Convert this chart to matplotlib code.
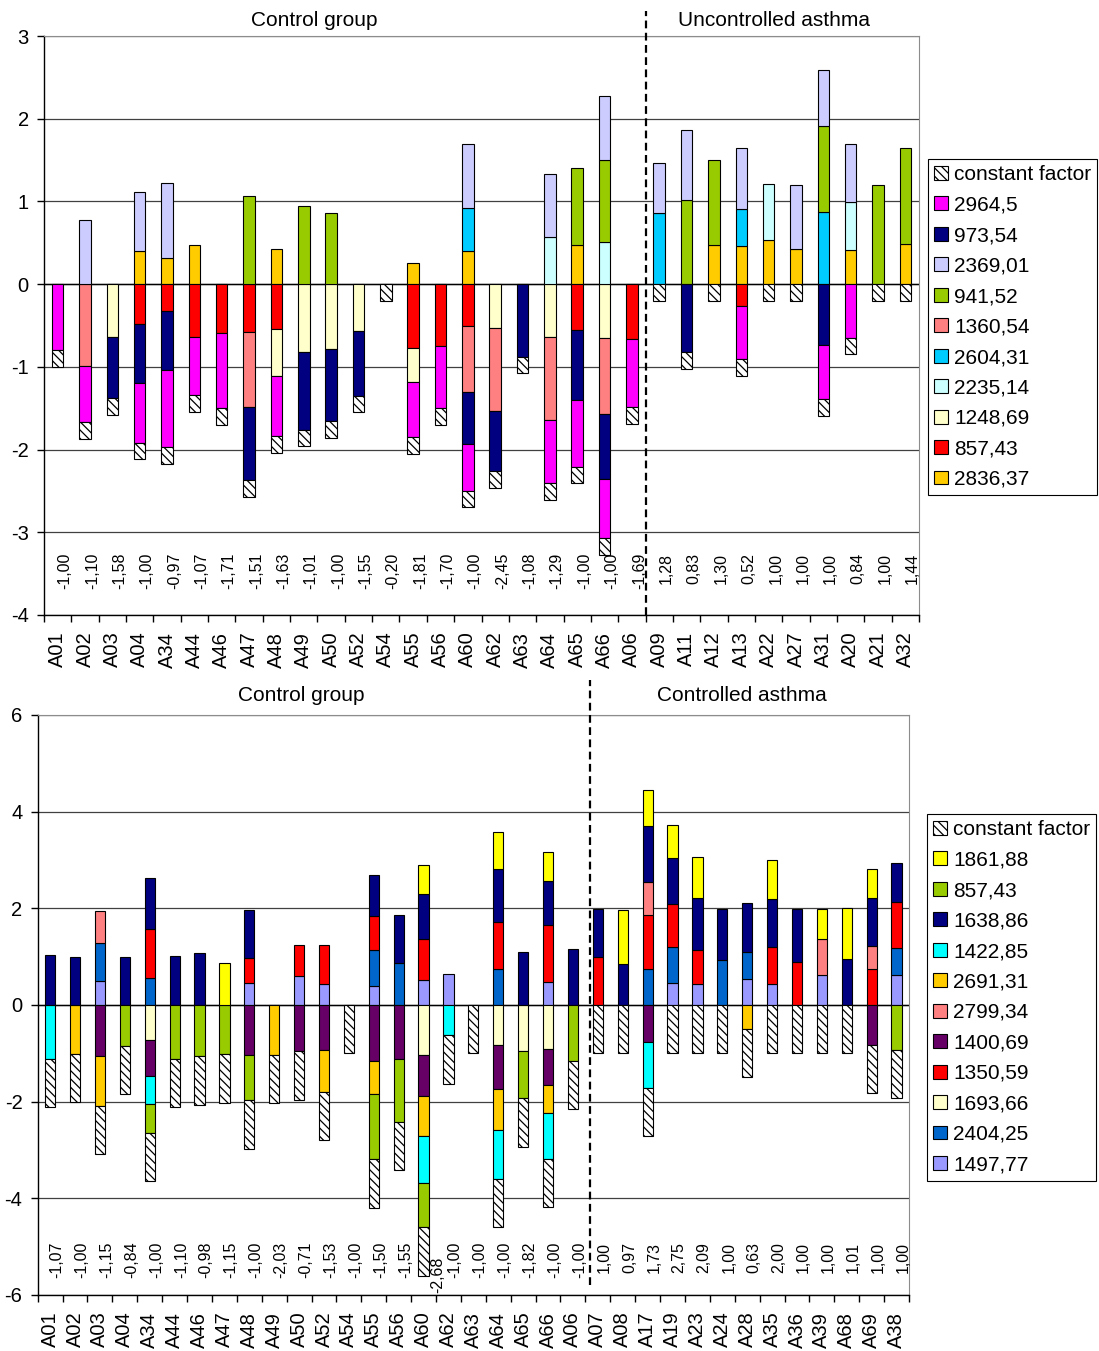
import matplotlib
matplotlib.use("Agg")
import matplotlib.pyplot as plt
import numpy as np
from matplotlib.patches import Patch

plt.rcParams.update({
    "font.family": ["Liberation Sans", "DejaVu Sans"],
    "axes.unicode_minus": False,
    "hatch.linewidth": 0.9,
    "hatch.color": "#303030",
    "figure.facecolor": "white",
    "axes.facecolor": "white",
})

HATCH = "\\\\\\\\"

# ---------------- top panel: control group vs uncontrolled asthma ----------------
top_cats = ["A01", "A02", "A03", "A04", "A34", "A44", "A46", "A47", "A48", "A49", "A50",
            "A52", "A54", "A55", "A56", "A60", "A62", "A63", "A64", "A65", "A66", "A06",
            "A09", "A11", "A12", "A13", "A22", "A27", "A31", "A20", "A21", "A32"]
top_n_control = 22

# series listed in stacking order (legend shows them reversed)
top_names = ["2836,37", "857,43", "1248,69", "2235,14", "2604,31", "1360,54",
             "941,52", "2369,01", "973,54", "2964,5", "constant factor"]
top_colors = ["#FFCC00", "#FF0000", "#FFFFCC", "#CCFFFF", "#00CCFF", "#FF8080",
              "#99CC00", "#CCCCFF", "#000080", "#FF00FF", "white"]

t_2836 = [0, 0, 0, .40, .32, .47, 0, 0, .42, 0, 0, 0, 0, .25, 0, .40, 0, 0, 0, .47, 0, 0,
          0, 0, .47, .46, .53, .43, 0, .41, 0, .48]
t_857 = [0, 0, 0, -.48, -.33, -.64, -.59, -.58, -.54, 0, 0, 0, 0, -.77, -.75, -.51, 0, 0, 0, -.55, 0, -.66,
         0, 0, 0, -.27, 0, 0, 0, 0, 0, 0]
t_1248 = [0, 0, -.64, 0, 0, 0, 0, 0, -.57, -.82, -.78, -.57, 0, -.41, 0, 0, -.53, 0, -.64, 0, -.65, 0,
          0, 0, 0, 0, 0, 0, 0, 0, 0, 0]
t_2235 = [0, 0, 0, 0, 0, 0, 0, 0, 0, 0, 0, 0, 0, 0, 0, 0, 0, 0, .57, 0, .51, 0,
          0, 0, 0, 0, .68, 0, 0, .58, 0, 0]
t_2604 = [0, 0, 0, 0, 0, 0, 0, 0, 0, 0, 0, 0, 0, 0, 0, .52, 0, 0, 0, 0, 0, 0,
          .86, 0, 0, .45, 0, 0, .87, 0, 0, 0]
t_1360 = [0, -.99, 0, 0, 0, 0, 0, -.91, 0, 0, 0, 0, 0, 0, 0, -.79, -1.00, 0, -1.00, 0, -.92, 0,
          0, 0, 0, 0, 0, 0, 0, 0, 0, 0]
t_941 = [0, 0, 0, 0, 0, 0, 0, 1.06, 0, .94, .86, 0, 0, 0, 0, 0, 0, 0, 0, .94, .99, 0,
         0, 1.02, 1.03, 0, 0, 0, 1.04, 0, 1.20, 1.16]
t_2369 = [0, .77, 0, .72, .90, 0, 0, 0, 0, 0, 0, 0, 0, 0, 0, .78, 0, 0, .76, 0, .77, 0,
          .61, .84, 0, .73, 0, .77, .68, .70, 0, 0]
t_973 = [0, 0, -.74, -.71, -.71, 0, 0, -.88, 0, -.94, -.88, -.78, 0, 0, 0, -.63, -.73, -.88, 0, -.85, -.78, 0,
         0, -.82, 0, 0, 0, 0, -.74, 0, 0, 0]
t_2964 = [-.80, -.68, 0, -.73, -.93, -.70, -.91, 0, -.73, 0, 0, 0, 0, -.67, -.75, -.57, 0, 0, -.77, -.81, -.72, -.83,
          0, 0, 0, -.64, 0, 0, -.65, -.65, 0, 0]
t_const = [-0.2] * 32

top_totals = [-1.00, -1.10, -1.58, -1.00, -0.97, -1.07, -1.71, -1.51, -1.63, -1.01, -1.00,
              -1.55, -0.20, -1.81, -1.70, -1.00, -2.45, -1.08, -1.29, -1.00, -1.00, -1.69,
              1.28, 0.83, 1.30, 0.52, 1.00, 1.00, 1.00, 0.84, 1.00, 1.44]

# ---------------- bottom panel: control group vs controlled asthma ----------------
bot_cats = ["A01", "A02", "A03", "A04", "A34", "A44", "A46", "A47", "A48", "A49", "A50",
            "A52", "A54", "A55", "A56", "A60", "A62", "A63", "A64", "A65", "A66", "A06",
            "A07", "A08", "A17", "A19", "A23", "A24", "A28", "A35", "A36", "A39", "A68",
            "A69", "A38"]
bot_n_control = 22

bot_names = ["1497,77", "2404,25", "1693,66", "1350,59", "1400,69", "2799,34",
             "2691,31", "1422,85", "1638,86", "857,43", "1861,88", "constant factor"]
bot_colors = ["#9999FF", "#0066CC", "#FFFFCC", "#FF0000", "#660066", "#FF8080",
              "#FFCC00", "#00FFFF", "#000080", "#99CC00", "#FFFF00", "white"]

b_1497 = [0, 0, .50, 0, 0, 0, 0, 0, .45, 0, .60, .44, 0, .40, 0, .52, .64, 0, 0, 0, .48, 0,
          0, 0, 0, .45, .44, 0, .53, .43, 0, .62, 0, 0, .63]
b_2404 = [0, 0, .79, 0, .55, 0, 0, 0, 0, 0, 0, 0, 0, .73, .87, 0, 0, 0, .74, 0, 0, 0,
          0, 0, .75, .76, 0, .94, .56, 0, 0, 0, 0, 0, .55]
b_1693 = [0, 0, 0, 0, -.73, 0, 0, 0, 0, 0, 0, 0, 0, 0, 0, -1.04, 0, 0, -.83, -.96, -.91, 0,
          0, 0, 0, 0, 0, 0, 0, 0, 0, 0, 0, 0, 0]
b_1350 = [0, 0, 0, 0, 1.02, 0, 0, 0, .53, 0, .65, .81, 0, .72, 0, .84, 0, 0, .97, 0, 1.17, 0,
          .99, 0, 1.12, .87, .70, 0, 0, .78, .90, 0, 0, .74, .96]
b_1400 = [0, 0, -1.05, 0, -.73, 0, 0, 0, -1.03, 0, -.96, -.94, 0, -1.16, -1.11, -.84, 0, 0, -.90, 0, -.75, 0,
          0, 0, -.77, 0, 0, 0, 0, 0, 0, 0, 0, -.82, 0]
b_2799 = [0, 0, .66, 0, 0, 0, 0, 0, 0, 0, 0, 0, 0, 0, 0, 0, 0, 0, 0, 0, 0, 0,
          0, 0, .68, 0, 0, 0, 0, 0, 0, .75, 0, .49, 0]
b_2691 = [0, -1.01, -1.03, 0, 0, 0, 0, 0, 0, -1.03, 0, -.86, 0, -.68, 0, -.83, 0, 0, -.86, 0, -.58, 0,
          0, 0, 0, 0, 0, 0, -.50, 0, 0, 0, 0, 0, 0]
b_1422 = [-1.11, 0, 0, 0, -.59, 0, 0, 0, 0, 0, 0, 0, 0, 0, 0, -.97, -.63, 0, -1.01, 0, -.94, 0,
          0, 0, -.94, 0, 0, 0, 0, 0, 0, 0, 0, 0, 0]
b_1638 = [1.03, 1.00, 0, 1.00, 1.06, 1.02, 1.07, 0, .98, 0, 0, 0, 0, .84, 1.00, .94, 0, 0, 1.11, 1.10, .92, 1.16,
          1.00, .85, 1.15, .97, 1.07, 1.05, 1.03, .98, 1.09, 0, .95, .98, .79]
b_857 = [0, 0, 0, -.85, -.59, -1.12, -1.06, -1.02, -.94, 0, 0, 0, 0, -1.35, -1.31, -.92, 0, 0, 0, -.97, 0, -1.16,
         0, 0, 0, 0, 0, 0, 0, 0, 0, 0, 0, 0, -.93]
b_1861 = [0, 0, 0, 0, 0, 0, 0, .87, 0, 0, 0, 0, 0, 0, 0, .60, 0, 0, .76, 0, .59, 0,
          0, 1.11, .74, .68, .86, 0, 0, .81, 0, .62, 1.05, .61, 0]
b_const = [-1.0] * 35

bot_totals = [-1.07, -1.00, -1.15, -0.84, -1.00, -1.10, -0.98, -1.15, -1.00, -2.03, -0.71,
              -1.53, -1.00, -1.50, -1.55, -2.68, -1.00, -1.00, -1.00, -1.82, -1.00, -1.00,
              1.00, 0.97, 1.73, 2.75, 2.09, 1.00, 0.63, 2.00, 1.00, 1.00, 1.01, 1.00, 1.00]


def draw_panel(ax, cats, n_control, series, names, colors, totals, ylim, yticks,
               label_y, bar_w, sep_dx, sep_top, sep_bottom, titles, title_pad):
    x = np.arange(len(cats))
    pos = np.zeros(len(cats))
    neg = np.zeros(len(cats))
    for vals, color, name in zip(series, colors, names):
        v = np.array(vals, dtype=float)
        bottom = np.where(v > 0, pos, neg)
        m = v != 0
        ax.bar(x[m], v[m], bottom=bottom[m], width=bar_w, color=color,
               edgecolor="black", linewidth=0.8,
               hatch=HATCH if name == "constant factor" else None, zorder=3)
        pos += np.where(v > 0, v, 0)
        neg += np.where(v < 0, v, 0)

    ax.set_xlim(-0.5, len(cats) - 0.5)
    ax.set_ylim(*ylim)
    ax.set_yticks(yticks)
    ax.set_yticklabels([str(t) for t in yticks], fontsize=14.5)
    ax.set_xticks(x)
    ax.set_xticklabels(cats, rotation=90, fontsize=14.5)
    ax.set_xticks(np.arange(len(cats) + 1) - 0.5, minor=True)
    ax.tick_params(axis="x", which="major", length=0, pad=12)
    ax.tick_params(axis="x", which="minor", length=5, width=1, direction="out")
    ax.tick_params(axis="y", length=5, width=1, direction="out", pad=6)

    ax.grid(axis="y", color="#404040", linewidth=0.9, zorder=0)
    ax.set_axisbelow(True)
    ax.axhline(0, color="black", linewidth=1.0, zorder=2)
    for s in ("top", "right"):
        ax.spines[s].set_color("#8c8c8c")
    for s in ("left", "bottom"):
        ax.spines[s].set_color("black")
        ax.spines[s].set_linewidth(1.0)

    # score labels under every column
    span = ylim[1] - ylim[0]
    for i, t in enumerate(totals):
        lx, ly = i + 0.27, label_y
        if neg[i] < label_y - 0.05 * span:
            lx += 0.28
            ly -= 0.026 * span
        ax.text(lx, ly, f"{t:.2f}".replace(".", ","), rotation=90, ha="center",
                va="top", fontsize=11.5, zorder=4)

    xs = n_control - 0.5 + sep_dx
    ax.plot([xs, xs], [sep_bottom, sep_top], color="black", linewidth=1.6,
            linestyle=(0, (3.5, 2)), clip_on=False, zorder=5)

    for tx, txt in titles:
        ax.annotate(txt, (tx, 1), xycoords=("data", "axes fraction"),
                    xytext=(0, title_pad), textcoords="offset points",
                    ha="center", va="center", fontsize=15)


def add_legend(fig, names, colors, anchor):
    handles = []
    labels = []
    for name, color in list(zip(names, colors))[::-1]:
        handles.append(Patch(facecolor=color, edgecolor="black", linewidth=0.8,
                             hatch=HATCH if name == "constant factor" else None))
        labels.append(name)
    leg = fig.legend(handles, labels, loc="upper left", bbox_to_anchor=anchor,
                     bbox_transform=fig.transFigure, fontsize=15, frameon=True,
                     fancybox=False, edgecolor="black", framealpha=1,
                     handlelength=0.65, handleheight=0.65, handletextpad=0.3,
                     labelspacing=0.55, borderpad=0.3, borderaxespad=0)
    leg.get_frame().set_linewidth(0.8)


W, H = 1099, 1351
fig = plt.figure(figsize=(W / 100, H / 100), dpi=100)

ax1 = fig.add_axes([44 / W, 1 - 615 / H, 875 / W, 579 / H])
draw_panel(ax1, top_cats, top_n_control,
           [t_2836, t_857, t_1248, t_2235, t_2604, t_1360, t_941, t_2369, t_973, t_2964, t_const],
           top_names, top_colors, top_totals, (-4, 3), [3, 2, 1, 0, -1, -2, -3, -4],
           -3.25, 0.42, 0.0, 3.3, -4,
           [(9.4, "Control group"), (26.2, "Uncontrolled asthma")], 11.5)
add_legend(fig, top_names, top_colors, (928 / W, 1 - 159 / H))

ax2 = fig.add_axes([37.7 / W, 1 - 1295 / H, 871.3 / W, 580 / H])
draw_panel(ax2, bot_cats, bot_n_control,
           [b_1497, b_2404, b_1693, b_1350, b_1400, b_2799, b_2691, b_1422, b_1638, b_857, b_1861, b_const],
           bot_names, bot_colors, bot_totals, (-6, 6), [6, 4, 2, 0, -2, -4, -6],
           -4.9, 0.41, 0.2, 6.72, -5.8,
           [(10.07, "Control group"), (27.8, "Controlled asthma")], 13.7)
add_legend(fig, bot_names, bot_colors, (927 / W, 1 - 814 / H))

fig.savefig("out.png", dpi=100, facecolor="white")
